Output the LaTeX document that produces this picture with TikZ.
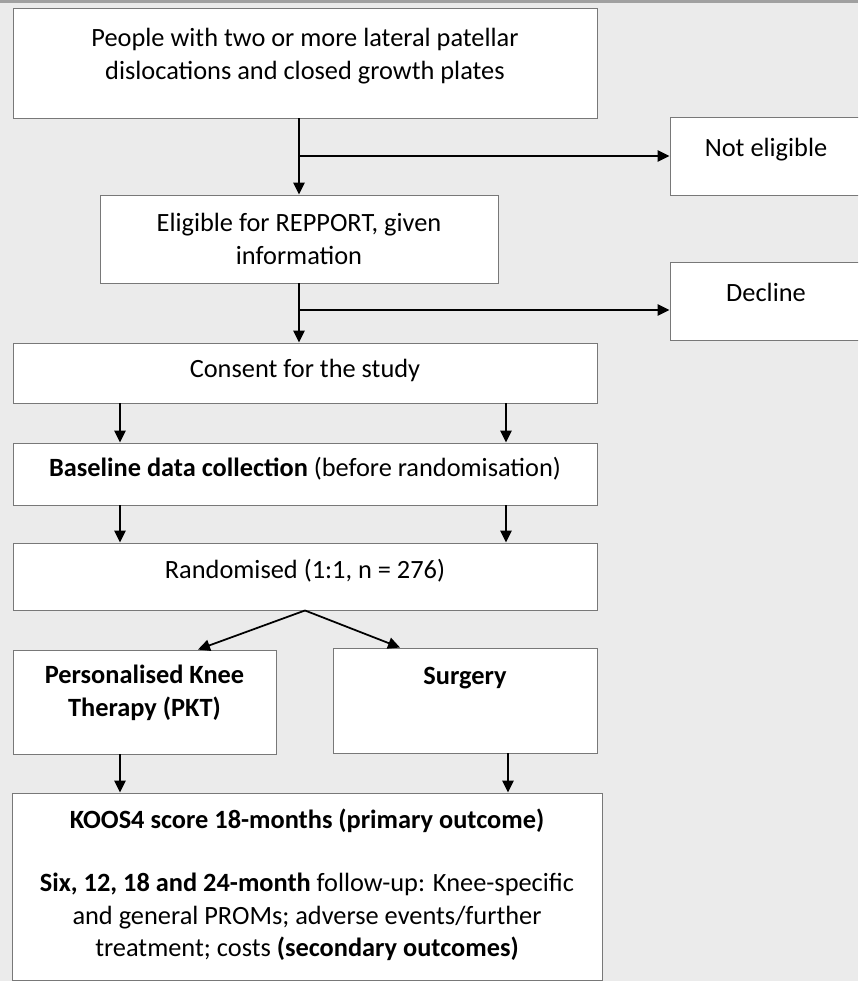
\documentclass[tikz,border=0pt]{standalone}
\usepackage{fontspec}
\setmainfont{Carlito}
\usetikzlibrary{arrows.meta,positioning}
\definecolor{bggray}{RGB}{235,235,235}
\definecolor{edgegray}{RGB}{120,120,120}
\definecolor{topbar}{RGB}{160,160,160}

\begin{document}
\begin{tikzpicture}[x=0.03cm,y=-0.03cm,>={Triangle[length=3.6mm,width=3.4mm]}]
  \tikzstyle{box}=[rectangle,draw=edgegray,line width=0.8pt,fill=white,align=center,inner sep=0pt,font=\fontsize{22.5}{28}\selectfont]
  \tikzstyle{arr}=[->,line width=1.5pt]
  \useasboundingbox (0,0) rectangle (858,981);
  \clip (0,0) rectangle (858,981);
  \fill[bggray] (0,0) rectangle (858,981);
  \fill[topbar] (0,0) rectangle (858,3);

  \node[box,minimum width=17.52cm,minimum height=3.3cm,text depth=0.54cm] (ppl) at (305,63) {People with two or more lateral patellar\\dislocations and closed growth plates};
  \node[box,minimum width=5.76cm,minimum height=2.34cm,text depth=0.54cm] (notel) at (766,156) {Not eligible};
  \node[box,minimum width=11.94cm,minimum height=2.64cm] (elig) at (299,239) {Eligible for REPPORT, given\\information};
  \node[box,minimum width=5.76cm,minimum height=2.34cm,text depth=0.54cm] (decline) at (766,301) {Decline};
  \node[box,minimum width=17.52cm,minimum height=1.8cm,text depth=0.30cm] (consent) at (305,373) {Consent for the study};
  \node[box,minimum width=17.52cm,minimum height=1.86cm,text depth=0.45cm] (base) at (305,474) {\textbf{Baseline data collection} (before randomisation)};
  \node[box,minimum width=17.52cm,minimum height=2.01cm,text depth=0.48cm] (rand) at (305,576.5) {Randomised (1:1, n = 276)};
  \node[box,minimum width=7.89cm,minimum height=3.12cm,text depth=0.69cm] (pkt) at (144.5,702) {\textbf{Personalised Knee}\\\textbf{Therapy (PKT)}};
  \node[box,minimum width=7.92cm,minimum height=3.15cm,text depth=1.50cm] (surg) at (465,700.5) {\textbf{Surgery}};
  \node[box,minimum width=17.7cm,minimum height=5.61cm,text depth=0.21cm] (final) at (307,886.5) {\textbf{KOOS4 score 18-months (primary outcome)}\\[25.4pt]\textbf{Six, 12, 18 and 24-month} follow-up: Knee-specific\\and general PROMs; adverse events/further\\treatment; costs \textbf{(secondary outcomes)}};

  \coordinate (dec-in) at ([yshift=-0.27cm]decline.west);
  \draw[arr] (ppl.south -| elig.north) -- (elig.north);
  \draw[arr] (elig.north |- notel.west) -- (notel.west);
  \draw[arr] (elig.south) -- (elig.south |- consent.north);
  \draw[arr] (elig.south |- dec-in) -- (dec-in);
  \foreach \x in {120,506} {
    \draw[arr] (consent.south -| \x,0) -- (base.north -| \x,0);
    \draw[arr] (base.south -| \x,0) -- (rand.north -| \x,0);
  }
  \draw[arr] (rand.south) -- (pkt.north -| 198,0);
  \draw[arr] (rand.south) -- (surg.north -| 400,0);
  \draw[arr] (pkt.south -| 120,0) -- (final.north -| 120,0);
  \draw[arr] (surg.south -| 508,0) -- (final.north -| 508,0);
\end{tikzpicture}
\end{document}
